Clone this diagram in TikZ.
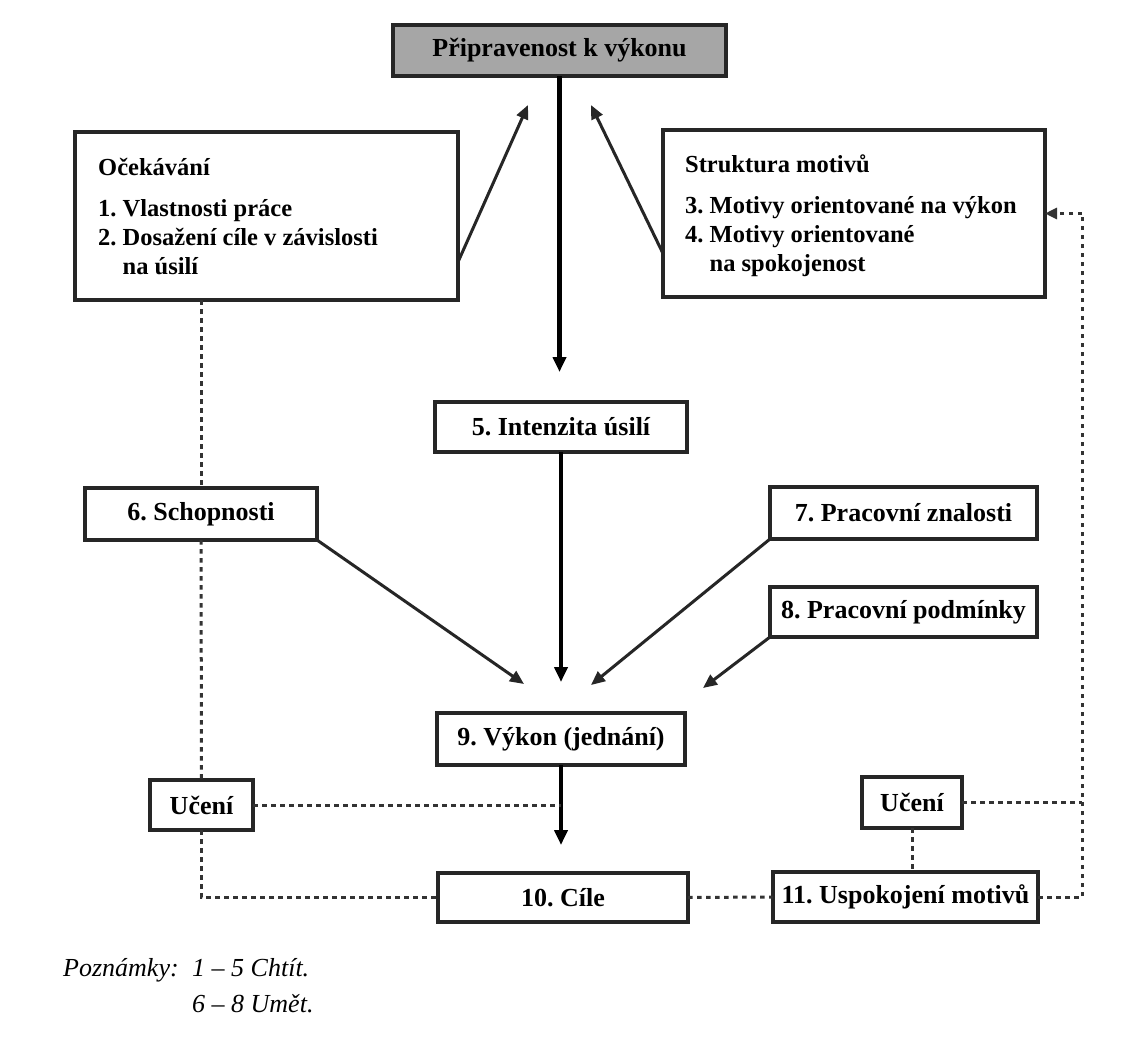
\documentclass[tikz,border=0pt]{standalone}
\usepackage{fontspec}
\setmainfont{Liberation Serif}
\usetikzlibrary{arrows.meta,calc}
\frenchspacing
\begin{document}
\begin{tikzpicture}[x=1pt,y=-1pt,
  box/.style={draw=black!85,line width=3.2pt,inner sep=0pt,outer sep=0pt,
    font=\fontsize{26}{30}\selectfont\bfseries,align=center},
  listtext/.style={inner sep=0pt,anchor=west,align=left,
    font=\fontsize{24.5}{29}\selectfont\bfseries},
  mainarrow/.style={line width=4.5pt,-{Triangle[length=15pt,width=13pt]}},
  diagarrow/.style={line width=3pt,black!85,-{Triangle[length=14pt,width=12pt]}},
  dotline/.style={line width=3pt,black!80,dash pattern=on 4.5pt off 4.5pt},
  notes/.style={font=\fontsize{26}{30}\selectfont\itshape,inner sep=0pt,anchor=base west}
]
\useasboundingbox (0,0) rectangle (1132,1044);
\fill[white] (0,0) rectangle (1132,1044);

% boxes
\node[box,fill=black!35,minimum width=333pt,minimum height=51pt] (top) at (559.5,50.5) {Připravenost k výkonu};
\node[box,minimum width=383pt,minimum height=168pt] (oce) at (266.5,216) {};
\node[listtext] (oceT) at ([xshift=23pt,yshift=-1pt]oce.west)
  {Očekávání\\[12pt]1. Vlastnosti práce\\2. Dosažení cíle v závislosti\\\phantom{2.\ }na úsilí};
\node[box,minimum width=382pt,minimum height=167pt] (str) at (854,213.5) {};
\node[listtext] (strT) at ([xshift=22pt,yshift=-2pt]str.west)
  {Struktura motivů\\[12pt]3. Motivy orientované na výkon\\4. Motivy orientované\\\phantom{4.\ }na spokojenost};
\node[box,minimum width=252pt,minimum height=50pt] (int5) at (561,427) {5. Intenzita úsilí};
\node[box,minimum width=232pt,minimum height=52pt] (sch6) at (201,514) {6. Schopnosti};
\node[box,minimum width=267pt,minimum height=52pt] (zn7) at (903.5,513) {7. Pracovní znalosti};
\node[box,minimum width=267pt,minimum height=50pt] (pod8) at (903.5,612) {8. Pracovní podmínky};
\node[box,minimum width=248pt,minimum height=52pt] (vyk9) at (561,739) {9. Výkon (jednání)};
\node[box,minimum width=103pt,minimum height=50pt] (uc1) at (201.5,805) {Učení};
\node[box,minimum width=250pt,minimum height=49pt] (cil10) at (563,897.5) {10. Cíle};
\node[box,minimum width=100pt,minimum height=51pt] (uc2) at (912,802.5) {Učení};
\node[box,minimum width=265pt,minimum height=50pt] (usp11) at (905.5,897) {11. Uspokojení motivů};

% notes
\node[notes] (n1) at (63,976) {Poznámky:};
\node[notes] (n2) at (192,976) {1 – 5 Chtít.};
\node[notes] (n3) at (192,1012) {6 – 8 Umět.};

% free ends
\coordinate (a0) at (559.5,372);
\coordinate (upL) at (528,105);
\coordinate (upR) at (591,105);
\coordinate (a5) at (561,682);
\coordinate (a6) at (524,684);
\coordinate (a7) at (591,685);
\coordinate (a8) at (703,688);
\coordinate (a9) at (561,845);
\coordinate (rc) at (1082,213.5);

% main arrows
\draw[mainarrow] (top.south) -- (a0);
\draw[mainarrow] (int5.south) -- (a5);
\draw[mainarrow] (vyk9.south) -- (a9);

% diagonal arrows
\draw[diagarrow] ([yshift=-46pt]oce.east) -- (upL);
\draw[diagarrow] ([yshift=-40pt]str.west) -- (upR);
\draw[diagarrow] (sch6.south east) -- (a6);
\draw[diagarrow] (zn7.south west) -- (a7);
\draw[diagarrow] (pod8.south west) -- (a8);

% dotted connectors
\draw[dotline] (sch6.north |- oce.south) -- (sch6.north);
\draw[dotline] (sch6.south) -- (uc1.north);
\draw[dotline] (uc1.south) |- (cil10.west);
\draw[dotline] (uc1.east) -- (uc1.east -| vyk9.south);
\draw[dotline] (cil10.east) -- (usp11.west);
\draw[dotline] (uc2.south) -- (uc2.south |- usp11.north);
\draw[dotline] (uc2.east) -- (uc2.east -| rc);
\draw[dotline] (usp11.east) -| (rc);
\draw[dotline,-{Triangle[length=12pt,width=11pt]}] (rc) -- (str.east);
\end{tikzpicture}
\end{document}
